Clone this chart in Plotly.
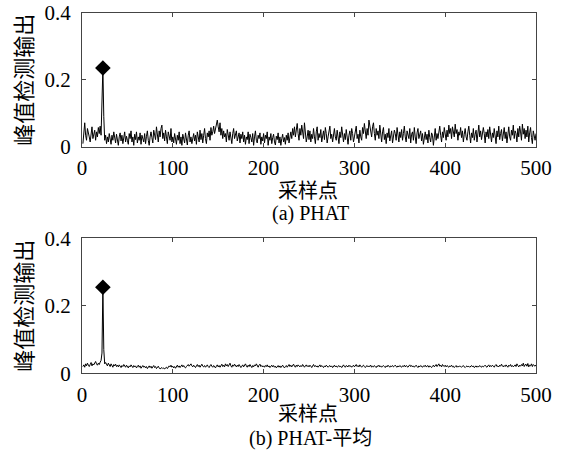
import plotly.graph_objects as go

# PHAT peak-detection output, thousandths (samples 1..500)
phat_raw = """
10 40 72 35 20 55 45 30 15 40 60 25 35 50 20 45 30 58 40 62 35 110 235 90 20
35 10 30 15 40 25 8 35 20 45 30 12 38 22 5 30 42 18 35 10 28 45 15 32 20
8 40 25 48 15 30 5 38 22 45 12 30 20 42 8 35 25 15 40 10 32 48 20 5 30
45 28 12 50 35 22 60 40 15 48 30 55 65 25 42 18 50 30 10 45 35 20 55 15 30
12 40 25 8 35 20 45 10 30 5 38 22 12 42 28 6 35 48 15 30 10 25 40 18 35
8 45 30 15 50 22 40 12 35 55 25 10 42 30 48 20 58 35 45 62 40 55 70 80 60
45 72 35 55 25 48 30 40 15 52 38 20 45 28 10 40 55 25 35 48 18 30 42 12 38
25 45 15 35 8 30 22 45 10 38 28 15 40 5 30 48 20 12 35 25 42 8 30 18 40
12 35 25 45 5 30 20 40 10 28 38 15 6 32 22 42 12 30 5 25 38 15 28 8 35
20 42 12 30 45 25 55 35 60 30 50 70 40 20 55 35 65 45 25 72 40 15 30 50 22
48 15 38 25 55 30 10 45 60 20 40 28 52 15 35 48 22 58 40 12 30 45 62 25 38
15 42 55 30 20 50 35 10 45 28 60 38 15 40 22 52 30 8 35 48 20 55 40 15 30
45 62 25 38 12 50 30 20 58 40 70 48 25 55 35 80 65 45 30 60 72 40 20 55 35
48 25 65 30 15 45 58 22 38 10 42 28 55 18 35 48 12 30 50 40 20 58 35 15 45
28 52 20 40 62 30 15 48 35 25 55 12 38 45 20 58 30 10 42 55 25 35 48 18 40
8 30 45 22 38 12 50 28 15 42 35 5 30 55 20 40 25 48 62 35 15 45 28 58 38
20 50 30 65 40 55 25 60 45 30 68 40 52 20 45 35 58 28 48 15 38 55 30 20 45
62 35 12 42 28 55 20 38 50 15 40 65 30 48 22 35 58 40 12 45 30 52 25 60 38
15 42 28 55 35 10 48 30 62 22 40 52 18 35 58 25 45 12 38 60 30 20 50 35 65
25 48 40 15 55 30 62 45 20 68 38 55 25 50 30 62 15 42 58 28 10 48 35 20 40
"""

# PHAT-average peak-detection output, thousandths (samples 1..500)
avg_raw = """
20 25 18 28 22 30 24 20 26 32 22 28 25 30 35 28 24 30 26 33 38 60 255 70 28
32 26 22 30 25 20 28 24 18 26 22 27 20 24 19 25 22 17 23 20 26 21 18 24 20
16 22 19 25 21 17 23 19 22 16 20 24 18 22 15 19 23 18 21 16 20 14 18 22 17
21 15 19 23 17 20 14 18 21 16 13 15 17 14 16 13 15 18 14 17 22 19 24 18 21
16 20 15 19 24 18 22 17 21 25 19 23 18 16 20 24 26 21 25 28 22 19 24 20 17
22 26 20 24 18 22 27 21 19 23 18 21 25 20 17 22 26 21 18 23 20 16 21 25 19
23 18 22 27 20 24 19 28 22 26 20 24 30 22 18 25 21 27 23 19 24 20 26 22 17
21 25 19 23 28 22 18 24 20 26 21 17 23 19 25 22 28 21 18 24 27 20 23 19 22
18 23 20 25 19 22 17 21 24 19 23 18 21 16 20 23 18 22 17 21 24 19 16 20 23
18 22 26 20 24 19 23 27 21 18 24 20 25 22 19 23 20 26 21 18 22 25 20 23 19
24 21 17 22 26 20 23 19 22 18 21 25 19 23 20 17 22 19 24 20 18 21 23 19 22
17 21 24 19 22 18 20 23 19 21 17 22 25 20 18 23 21 19 24 20 22 18 21 24 19
22 26 20 23 19 25 21 18 22 24 20 17 21 23 19 22 20 24 18 21 19 23 20 17 22
20 24 19 22 18 21 23 20 17 22 19 24 21 18 22 20 23 19 21 24 20 18 22 19 23
21 18 22 20 24 19 23 21 18 22 25 20 23 19 22 18 21 24 20 17 22 19 23 21 18
22 20 24 19 21 23 18 22 20 17 21 24 19 22 26 20 23 28 21 24 19 26 22 20 24
19 23 21 18 22 20 24 19 21 17 20 23 18 21 19 22 20 18 21 23 19 17 20 22 19
21 18 20 23 19 22 17 20 22 18 21 19 23 20 18 22 19 21 24 20 18 22 25 19 23
20 24 21 18 23 26 20 22 19 24 21 27 22 19 23 20 25 22 18 24 21 26 20 23 19
22 25 20 28 23 19 24 21 26 22 30 20 25 27 21 29 19 24 22 28 20 26 23 21 25
"""

phat = [int(v) / 1000 for v in phat_raw.split()]
phat_avg = [int(v) / 1000 for v in avg_raw.split()]

x_ticks = [0, 100, 200, 300, 400, 500]
y_ticks = [0, 0.2, 0.4]
y_tick_text = ["0", "0.2", "0.4"]
y_title = "峰值检测输出"
x_title = "采样点"
captions = ["(a) PHAT", "(b) PHAT-平均"]

SERIF = "Liberation Serif, Times New Roman, serif"
CJK = "Noto Sans CJK SC, sans-serif"
MIX = "Liberation Serif, Noto Sans CJK SC, serif"

fig = go.Figure()

series = [phat, phat_avg]
axes_names = [("x", "y"), ("x2", "y2")]
for s, (xa, ya) in zip(series, axes_names):
    xs = list(range(1, len(s) + 1))
    fig.add_trace(go.Scatter(x=xs, y=s, mode="lines", xaxis=xa, yaxis=ya,
                             line=dict(color="black", width=1),
                             showlegend=False, hoverinfo="skip"))
    k = max(range(len(s)), key=lambda i: s[i])
    fig.add_trace(go.Scatter(x=[xs[k]], y=[s[k]], mode="markers", xaxis=xa, yaxis=ya,
                             marker=dict(symbol="diamond", size=12, color="black"),
                             showlegend=False, hoverinfo="skip"))

W, H = 563, 454
x_dom = [82 / W, 536 / W]
y_doms = [[(H - 147) / H, (H - 12.5) / H], [(H - 373.3) / H, (H - 238.3) / H]]

axis_common = dict(showline=True, mirror="ticks", linecolor="#444", linewidth=1,
                   ticks="inside", ticklen=4, tickcolor="#444", showgrid=False,
                   zeroline=False, automargin=False,
                   tickfont=dict(family=SERIF, size=21, color="black"))

layout = dict(width=W, height=H, margin=dict(l=0, r=0, t=0, b=0, pad=0),
              paper_bgcolor="white", plot_bgcolor="white", template="none")
for i, yd in enumerate(y_doms):
    sfx = "" if i == 0 else str(i + 1)
    layout["xaxis" + sfx] = dict(domain=x_dom, range=[0, 500], tickvals=x_ticks,
                                 anchor="y" + sfx, ticklabelstandoff=2, **axis_common)
    layout["yaxis" + sfx] = dict(domain=yd, range=[0, 0.4], tickvals=y_ticks,
                                 ticktext=y_tick_text, anchor="x" + sfx,
                                 ticklabelstandoff=6, **axis_common)
fig.update_layout(**layout)

anns = []
for i, yd in enumerate(y_doms):
    ymid = (yd[0] + yd[1]) / 2
    anns.append(dict(text=y_title, x=22 / W, y=ymid, xref="paper", yref="paper",
                     textangle=-90, showarrow=False, xanchor="center", yanchor="middle",
                     font=dict(family=CJK, size=22, color="black")))
cap_y = [(189, 213), (412, 438)]
for i, (ty, cy) in enumerate(cap_y):
    anns.append(dict(text=x_title, x=308 / W, y=(H - ty) / H, xref="paper", yref="paper",
                     showarrow=False, xanchor="center", yanchor="middle",
                     font=dict(family=CJK, size=20, color="black")))
    anns.append(dict(text=captions[i], x=310 / W, y=(H - cy) / H, xref="paper", yref="paper",
                     showarrow=False, xanchor="center", yanchor="middle",
                     font=dict(family=MIX, size=20, color="black")))
fig.update_layout(annotations=anns)

fig.write_html("out.html", config={"displayModeBar": False},
               post_script="document.body.style.margin='0px';document.body.style.padding='0px';")
